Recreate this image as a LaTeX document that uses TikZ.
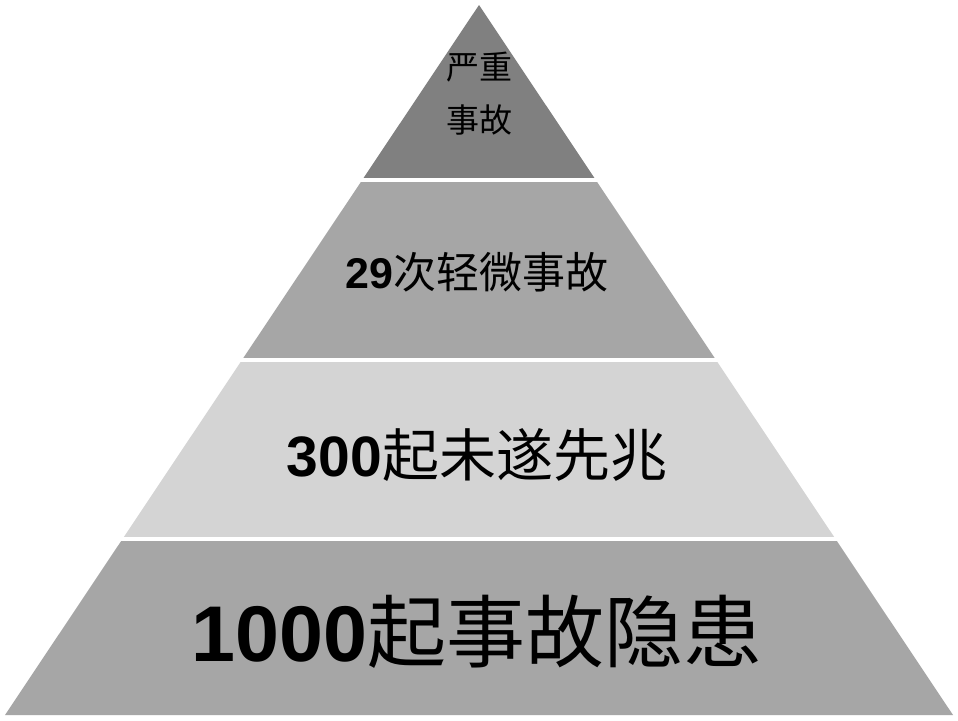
\documentclass[tikz,border=0pt]{standalone}
\usepackage{fontspec}
\setmainfont{Liberation Sans}
\newfontfamily\cjk{Noto Sans CJK SC}
\usepackage{tikz}
\usetikzlibrary{positioning}

\definecolor{layerdark}{RGB}{128,128,128}
\definecolor{layermid}{RGB}{166,166,166}
\definecolor{layerlight}{RGB}{212,212,212}

\tikzset{
  layer/.style={draw=white, line width=4pt, line join=miter},
  label/.style={inner sep=0pt, align=center, text=black},
}

\begin{document}
\begin{tikzpicture}[x=1pt, y=-1pt]
  \useasboundingbox[fill=white] (0,0) rectangle (958,720);

  % 金字塔各层的角点
  \coordinate (apex) at (479,5);
  \coordinate (l1) at (362.2,180);   \coordinate (r1) at (595.8,180);
  \coordinate (l2) at (242.3,359.5); \coordinate (r2) at (715.7,359.5);
  \coordinate (l3) at (122.5,539);   \coordinate (r3) at (835.5,539);
  \coordinate (l4) at (5,715);       \coordinate (r4) at (953,715);

  % 填充各层
  \fill[layerdark]  (apex) -- (r1) -- (l1) -- cycle;
  \fill[layermid]   (l1) -- (r1) -- (r2) -- (l2) -- cycle;
  \fill[layerlight] (l2) -- (r2) -- (r3) -- (l3) -- cycle;
  \fill[layermid]   (l3) -- (r3) -- (r4) -- (l4) -- cycle;

  % 层间白色分隔线
  \draw[layer] ([xshift=-4pt]l1) -- ([xshift=4pt]r1);
  \draw[layer] ([xshift=-4pt]l2) -- ([xshift=4pt]r2);
  \draw[layer] ([xshift=-4pt]l3) -- ([xshift=4pt]r3);

  % 各层文字
  \node[label, font=\cjk\fontsize{33}{53}\selectfont] (top) at (479,94) {严重\\事故};
  \node[label, font=\fontsize{43}{50}\selectfont] (minor) at (477,272)
    {\textbf{29}{\cjk 次轻微事故}};
  \node[label, font=\fontsize{57}{66}\selectfont] (near) at (477,455)
    {\textbf{300}{\cjk 起未遂先兆}};
  \node[label, font=\fontsize{79}{90}\selectfont] (hazard) at (477,632)
    {\textbf{1000}{\cjk 起事故隐患}};
\end{tikzpicture}
\end{document}
